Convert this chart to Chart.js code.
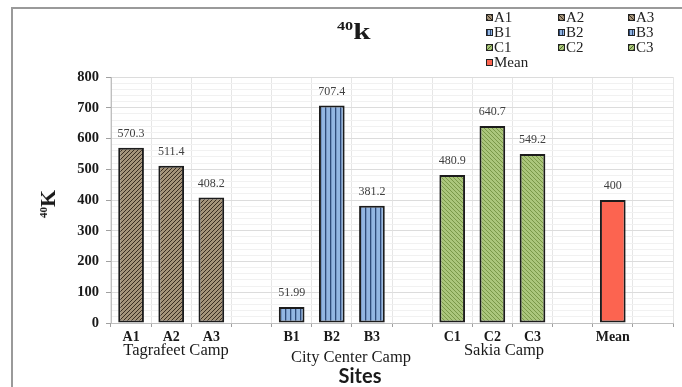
<!DOCTYPE html>
<html>
<head>
<meta charset="utf-8">
<script src="https://cdn.jsdelivr.net/npm/chart.js@4.4.0/dist/chart.umd.min.js"></script>
<style>
  html, body { margin: 0; padding: 0; background: #fff; }
  #wrap { position: relative; width: 682px; height: 387px; overflow: hidden; font-family: "Liberation Serif", "Times New Roman", serif; }
  #wrap canvas { position: absolute; left: 0; top: 0; }
  .frame { position: absolute; left: 11px; top: 7px; width: 700px; height: 400px; border-top: 2px solid #9a9a9a; border-left: 2px solid #9a9a9a; }
  .txt { position: absolute; white-space: nowrap; color: #1a1a1a; }
  .title { left: 337px; top: 19px; font-weight: bold; font-size: 23px; transform-origin: left center; transform: scaleX(1.35); }
  .title sup { font-size: 12px; vertical-align: 9px; }
  .ytitle { left: 48px; top: 204px; font-weight: bold; font-size: 22px; transform: translate(-50%, -50%) rotate(-90deg); }
  .ytitle sup { font-size: 11px; vertical-align: 8px; }
  .group { font-size: 16.5px; transform: translateX(-50%); }
  .xtitle { left: 360px; top: 363px; font-family: Lato, "Liberation Sans", sans-serif; font-weight: bold; font-size: 20px; transform: translateX(-50%); }
  .legend { position: absolute; left: 486px; top: 10px; display: grid; grid-template-columns: 72px 70px 60px; grid-auto-rows: 15px; font-size: 15px; color: #222; }
  .legend div { display: flex; align-items: center; }
  .legend i { display: inline-block; width: 5px; height: 5px; border: 1px solid #222; margin-right: 1px; }
</style>
</head>
<body>
<div id="wrap">
  <div class="frame"></div>
  <canvas id="chart" width="682" height="387"></canvas>
  <div class="txt title"><sup>40</sup>k</div>
  <div class="txt ytitle"><sup>40</sup>K</div>
  <div class="txt group" style="left:176px; top:340px;">Tagrafeet Camp</div>
  <div class="txt group" style="left:351px; top:347px;">City Center Camp</div>
  <div class="txt group" style="left:504px; top:340px;">Sakia Camp</div>
  <div class="txt xtitle">Sites</div>
  <div class="legend" id="legend"></div>
</div>
<script>
// sites along the x axis, blank slots separate the camps
const sites = ['A1', 'A2', 'A3', '', 'B1', 'B2', 'B3', '', 'C1', 'C2', 'C3', '', 'Mean', ''];
const k40 = [570.3, 511.4, 408.2, null, 51.99, 707.4, 381.2, null, 480.9, 640.7, 549.2, null, 400, null];
const legendNames = ['A1', 'A2', 'A3', 'B1', 'B2', 'B3', 'C1', 'C2', 'C3', 'Mean'];
const yTicks = [0, 100, 200, 300, 400, 500, 600, 700, 800];

function hatch(bg, fg, kind, size) {
  const c = document.createElement('canvas');
  c.width = c.height = size;
  const g = c.getContext('2d');
  g.fillStyle = bg;
  g.fillRect(0, 0, size, size);
  g.strokeStyle = fg;
  g.fillStyle = fg;
  g.lineWidth = 1;
  if (kind === 'v') {
    g.fillRect(0, 0, 1.3, size);
  } else {
    g.beginPath();
    if (kind === 'up') {
      g.moveTo(0, size); g.lineTo(size, 0);
      g.moveTo(-1, 1); g.lineTo(1, -1);
      g.moveTo(size - 1, size + 1); g.lineTo(size + 1, size - 1);
    } else {
      g.moveTo(0, 0); g.lineTo(size, size);
      g.moveTo(size - 1, -1); g.lineTo(size + 1, 1);
      g.moveTo(-1, size - 1); g.lineTo(1, size + 1);
    }
    g.stroke();
  }
  return document.getElementById('chart').getContext('2d').createPattern(c, 'repeat');
}

const brown = hatch('#a5947a', '#3a2e22', 'up', 4);
const blue = hatch('#93b6e2', '#2e4a78', 'v', 5);
const green = hatch('#abc67c', '#7a9848', 'down', 4);
const red = '#fc6450';
const fills = [brown, brown, brown, null, blue, blue, blue, null, green, green, green, null, red, null];

// legend swatches
const swatchCss = {
  A: 'repeating-linear-gradient(45deg,#3a2e22 0 1px,#a5947a 1px 3px)',
  B: 'repeating-linear-gradient(90deg,#2e4a78 0 1px,#93b6e2 1px 3px)',
  C: 'repeating-linear-gradient(-45deg,#4d6a2a 0 1px,#abc67c 1px 3px)',
  M: red
};
document.getElementById('legend').innerHTML = legendNames
  .map(n => `<div><i style="background:${swatchCss[n[0]]}"></i>${n}</div>`)
  .join('');

const valueLabels = {
  id: 'valueLabels',
  afterDatasetsDraw(chart) {
    const ctx = chart.ctx;
    const meta = chart.getDatasetMeta(0);
    ctx.save();
    ctx.font = '12px "Liberation Serif", serif';
    ctx.fillStyle = '#404040';
    ctx.textAlign = 'center';
    ctx.textBaseline = 'middle';
    meta.data.forEach((bar, i) => {
      if (k40[i] == null) return;
      ctx.fillText(String(k40[i]), bar.x, bar.y - 14);
    });
    ctx.restore();
  }
};

new Chart(document.getElementById('chart'), {
  type: 'bar',
  data: {
    labels: sites,
    datasets: [{
      data: k40,
      backgroundColor: fills,
      borderColor: '#1c1c1c',
      borderWidth: 2,
      borderSkipped: false,
      categoryPercentage: 1,
      barPercentage: 0.64
    }]
  },
  options: {
    responsive: false,
    animation: false,
    events: [],
    layout: { padding: { left: 60, right: 9, top: 77, bottom: 0 } },
    plugins: { legend: { display: false }, tooltip: { enabled: false } },
    scales: {
      x: {
        afterFit(scale) { scale.height = 64; },
        border: { color: '#bfbfbf' },
        grid: { color: '#e6e6e6', tickColor: '#a0a0a0', tickLength: 4 },
        ticks: {
          autoSkip: false, maxRotation: 0, padding: 2, color: '#1a1a1a',
          font: { family: '"Liberation Serif", serif', size: 14, weight: 'bold' }
        }
      },
      y: {
        min: 0,
        max: 800,
        afterFit(scale) { scale.width = 51; },
        border: { color: '#bfbfbf' },
        grid: {
          color: ctx => (yTicks.includes(ctx.tick.value) ? '#dcdcdc' : '#f1f1f1'),
          tickColor: ctx => (yTicks.includes(ctx.tick.value) ? '#a0a0a0' : 'rgba(0,0,0,0)'),
          tickLength: 5
        },
        ticks: {
          stepSize: 20, autoSkip: false, padding: 7, color: '#1a1a1a',
          font: { family: '"Liberation Serif", serif', size: 14.5, weight: 'bold' },
          callback: v => (yTicks.includes(v) ? v : '')
        }
      }
    }
  },
  plugins: [valueLabels]
});
</script>
</body>
</html>
